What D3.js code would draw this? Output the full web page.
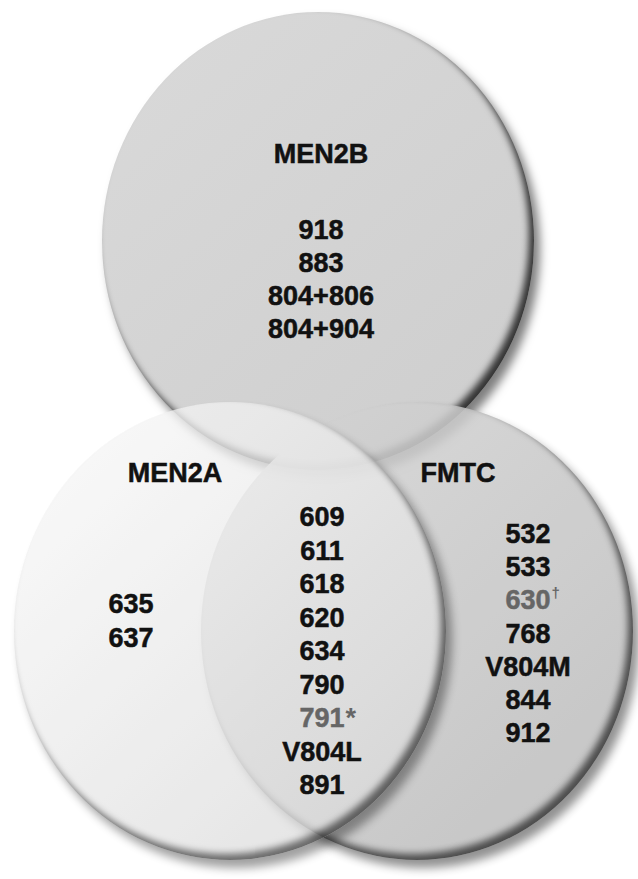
<!DOCTYPE html>
<html>
<head>
<meta charset="utf-8">
<script src="https://cdn.jsdelivr.net/npm/d3@7"></script>
<style>
  body { margin: 0; background: #fff; }
  text { font-family: "Liberation Sans", Arial, sans-serif; font-weight: bold; }
</style>
</head>
<body>
<div id="venn"></div>
<script>
// set names and the RET codons listed in each region
var setNames = ["MEN2B", "MEN2A", "FMTC"];
var men2bCodons = ["918", "883", "804+806", "804+904"];
var men2aOnly = ["635", "637"];
var sharedCodons = ["609", "611", "618", "620", "634", "790", "791", "V804L", "891"];
var fmtcOnly = ["532", "533", "630", "768", "V804M", "844", "912"];
// codons printed in grey, with their footnote marks
var footnoteCodons = ["791", "630"];
var footnoteMarks = ["*", "\u2020"];

var svgWidth = 638;
var svgHeight = 879;

var svg = d3.select("#venn")
  .append("svg")
  .attr("width", svgWidth)
  .attr("height", svgHeight);

var defs = svg.append("defs");

// drop shadow to the lower right + dark inner rim on the lower right edge
var filter = defs.append("filter")
  .attr("id", "bevel")
  .attr("color-interpolation-filters", "sRGB")
  .attr("x", "-10%").attr("y", "-10%")
  .attr("width", "125%").attr("height", "125%");
filter.append("feGaussianBlur").attr("in", "SourceAlpha").attr("stdDeviation", 5).attr("result", "sb");
filter.append("feOffset").attr("in", "sb").attr("dx", 6).attr("dy", 8).attr("result", "so");
filter.append("feFlood").attr("flood-color", "#000").attr("flood-opacity", 0.5).attr("result", "sf");
filter.append("feComposite").attr("in", "sf").attr("in2", "so").attr("operator", "in").attr("result", "shadow");
filter.append("feOffset").attr("in", "SourceAlpha").attr("dx", -5).attr("dy", -6).attr("result", "io");
filter.append("feGaussianBlur").attr("in", "io").attr("stdDeviation", 3.5).attr("result", "ib");
filter.append("feComposite").attr("in", "SourceAlpha").attr("in2", "ib").attr("operator", "out").attr("result", "rimMask");
filter.append("feFlood").attr("flood-color", "#000").attr("flood-opacity", 0.75).attr("result", "rf");
filter.append("feComposite").attr("in", "rf").attr("in2", "rimMask").attr("operator", "in").attr("result", "rim");
var merge = filter.append("feMerge");
merge.append("feMergeNode").attr("in", "shadow");
merge.append("feMergeNode").attr("in", "SourceGraphic");
merge.append("feMergeNode").attr("in", "rim");

// one disc per set, drawn back to front
var rx = 216, ry = 229;
var discs = [
  {name: setNames[0], cx: 318, cy: 241, light: "#d8d8d8", dark: "#cecece", opacity: 1},
  {name: setNames[2], cx: 417, cy: 631, light: "#d2d2d2", dark: "#bcbcbc", opacity: 0.86},
  {name: setNames[1], cx: 230, cy: 631, light: "#f6f6f6", dark: "#dadada", opacity: 0.74}
];

discs.forEach(function(d, i) {
  var g = defs.append("linearGradient")
    .attr("id", "grad" + i)
    .attr("x1", "15%").attr("y1", "10%")
    .attr("x2", "90%").attr("y2", "95%");
  g.append("stop").attr("offset", "0%").attr("stop-color", d.light);
  g.append("stop").attr("offset", "100%").attr("stop-color", d.dark);
});

svg.selectAll("g.disc")
  .data(discs)
  .enter()
  .append("g")
  .attr("class", "disc")
  .attr("opacity", d => d.opacity)
  .append("ellipse")
  .attr("cx", d => d.cx)
  .attr("cy", d => d.cy)
  .attr("rx", rx)
  .attr("ry", ry)
  .attr("fill", (d, i) => "url(#grad" + i + ")")
  .attr("filter", "url(#bevel)");

// set labels
var labels = [
  {text: setNames[0], x: 321, y: 163},
  {text: setNames[1], x: 175, y: 482},
  {text: setNames[2], x: 458, y: 482}
];
svg.selectAll("text.setlabel")
  .data(labels)
  .enter()
  .append("text")
  .attr("class", "setlabel")
  .attr("x", d => d.x)
  .attr("y", d => d.y)
  .attr("text-anchor", "middle")
  .attr("font-size", 27)
  .attr("fill", "#111")
  .attr("stroke", "#111")
  .attr("stroke-width", 0.5)
  .text(d => d.text);

// codon columns: row index -> baseline through a linear scale
function column(list, x, y0, step) {
  var yScale = d3.scaleLinear().domain([0, 1]).range([y0, y0 + step]);
  var rows = svg.append("g");
  rows.selectAll("text")
    .data(list)
    .enter()
    .append("text")
    .attr("x", x)
    .attr("y", (d, i) => yScale(i))
    .attr("text-anchor", "middle")
    .attr("font-size", 27)
    .attr("fill", d => footnoteCodons.indexOf(d) >= 0 ? "#666" : "#111")
    .attr("stroke", d => footnoteCodons.indexOf(d) >= 0 ? "#666" : "#111")
    .attr("stroke-width", 0.5)
    .text(d => d)
    .each(function(d, i) {
      var k = footnoteCodons.indexOf(d);
      if (k < 0) return;
      var w = this.getComputedTextLength();
      var dagger = footnoteMarks[k] === "\u2020";
      rows.append("text")
        .attr("x", x + w / 2 + 1)
        .attr("y", yScale(i) - (dagger ? 11 : 0))
        .attr("font-size", dagger ? 15 : 27)
        .attr("fill", "#666")
        .text(footnoteMarks[k]);
    });
}

column(men2bCodons, 321, 239, 33);
column(men2aOnly, 131, 613, 34);
column(sharedCodons, 322, 526, 33.5);
column(fmtcOnly, 528, 543, 33.2);
</script>
</body>
</html>
